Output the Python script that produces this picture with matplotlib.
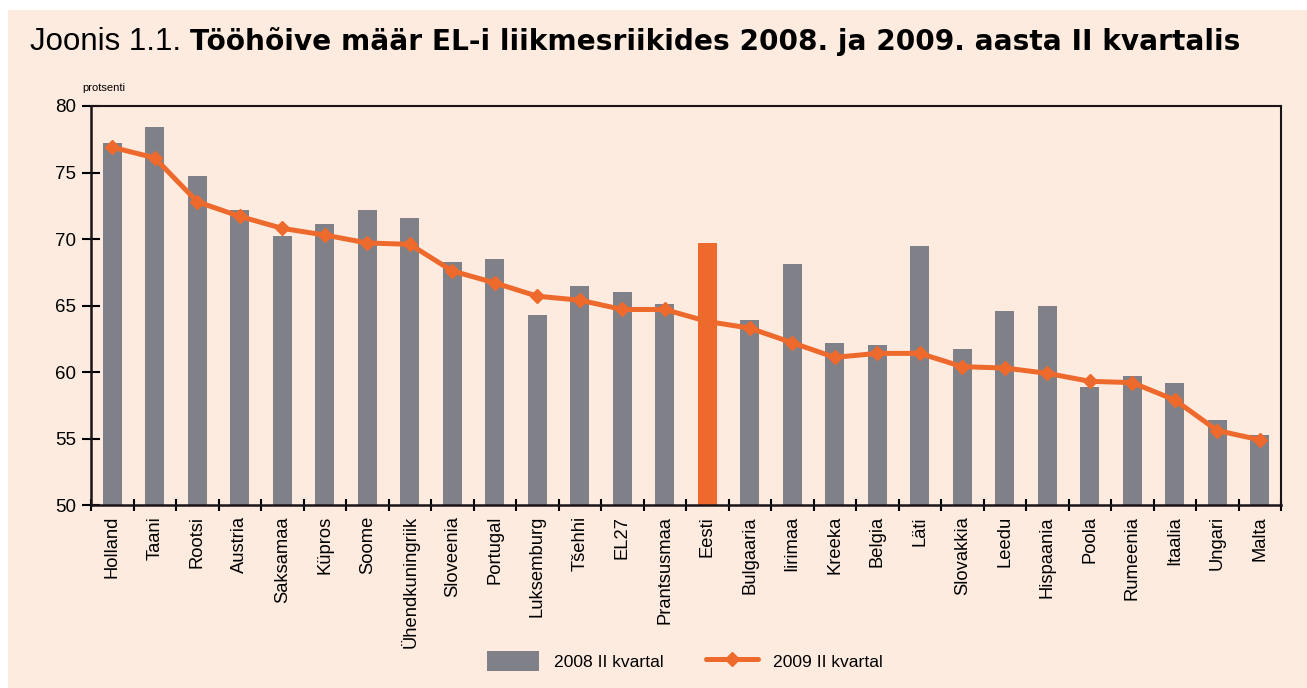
import numpy as np
import matplotlib.pyplot as plt
from matplotlib.patches import Patch, Rectangle
from matplotlib.lines import Line2D

# ════════════════════════════════════════════════════════════════
# ANDMED
# ════════════════════════════════════════════════════════════════
riigid = ["Holland", "Taani", "Rootsi", "Austria", "Saksamaa", "Küpros", "Soome",
          "Ühendkuningriik", "Sloveenia", "Portugal", "Luksemburg", "Tšehhi", "EL27",
          "Prantsusmaa", "Eesti", "Bulgaaria", "Iirimaa", "Kreeka", "Belgia", "Läti",
          "Slovakkia", "Leedu", "Hispaania", "Poola", "Rumeenia", "Itaalia", "Ungari",
          "Malta"]
kv2008 = [77.2, 78.4, 74.7, 72.2, 70.2, 71.1, 72.2, 71.6, 68.3, 68.5, 64.3, 66.5, 66.0,
          65.1, 69.7, 63.9, 68.1, 62.2, 62.0, 69.5, 61.7, 64.6, 65.0, 58.9, 59.7, 59.2,
          56.4, 55.3]
kv2009 = [76.9, 76.1, 72.8, 71.7, 70.8, 70.3, 69.7, 69.6, 67.6, 66.7, 65.7, 65.4, 64.7,
          64.7, 63.8, 63.3, 62.2, 61.1, 61.4, 61.4, 60.4, 60.3, 59.9, 59.3, 59.2, 57.9,
          55.6, 54.9]
esile = "Eesti"

HALL = '#808088'
ORANZ = '#EE6A2C'
TAUST = '#FDEBE0'

plt.rcParams['font.family'] = ['Liberation Sans', 'DejaVu Sans']

fig = plt.figure(figsize=(13.07, 6.88), dpi=100)
fig.patch.set_facecolor('white')
fig.patches.append(Rectangle((8 / 1307, 0), 1 - 8 / 1307, 1 - 10 / 688,
                             transform=fig.transFigure, facecolor=TAUST,
                             edgecolor='none', zorder=-10))

ax = fig.add_axes([91 / 1307, 1 - 505 / 688, (1281 - 91) / 1307, (505 - 106) / 688])
ax.set_facecolor(TAUST)

x = np.arange(len(riigid))
varvid = [ORANZ if r == esile else HALL for r in riigid]
ax.bar(x, kv2008, width=0.44, color=varvid, bottom=0, zorder=2)
ax.plot(x, kv2009, color=ORANZ, lw=3.6, marker='D', markersize=7,
        solid_joinstyle='round', zorder=3)

ax.set_xlim(-0.5, len(riigid) - 0.5)
ax.set_ylim(50, 80)
ax.set_yticks(np.arange(50, 81, 5))
ax.set_xticks(x)
ax.set_xticklabels(riigid, rotation=90, fontsize=13.2)
ax.set_xticks(np.arange(-0.5, len(riigid), 1), minor=True)
ax.tick_params(axis='x', which='major', length=0, pad=8)
ax.tick_params(axis='x', which='minor', direction='inout', length=8, width=1.5)
ax.tick_params(axis='y', direction='inout', length=13, width=1.5, labelsize=13.5, pad=4)

for s in ['left', 'bottom']:
    ax.spines[s].set_linewidth(1.8)
for s in ['top', 'right']:
    ax.spines[s].set_linewidth(1.5)
for s in ax.spines.values():
    s.set_color('#1a1418')

fig.text(82 / 1307, 1 - 88 / 688, "protsenti", fontsize=8, ha='left', va='center')

# pealkiri: tavaline + paks osa
t1 = fig.text(30 / 1307, 1 - 42 / 688, "Joonis 1.1. ", fontsize=22.5, ha='left',
              va='center')
fig.canvas.draw()
bb = t1.get_window_extent()
fig.text(bb.x1 / fig.bbox.width, 1 - 42 / 688,
         "Tööhõive määr EL-i liikmesriikides 2008. ja 2009. aasta II kvartalis",
         fontsize=20.2, fontweight='bold', family='DejaVu Sans', ha='left', va='center')

kasitsed = [Patch(facecolor=HALL, edgecolor='none'),
            Line2D([0], [0], color=ORANZ, lw=3.6, marker='D', markersize=7,
                   solid_capstyle='round')]
fig.legend(kasitsed, ["2008 II kvartal", "2009 II kvartal"], loc='center',
           bbox_to_anchor=(685 / 1307, 1 - 661 / 688), ncol=2, frameon=False,
           fontsize=12.6, handlelength=3.0, handleheight=1.3, handletextpad=0.85,
           columnspacing=2.4)

plt.savefig('out.png', dpi=100, facecolor=fig.get_facecolor())
